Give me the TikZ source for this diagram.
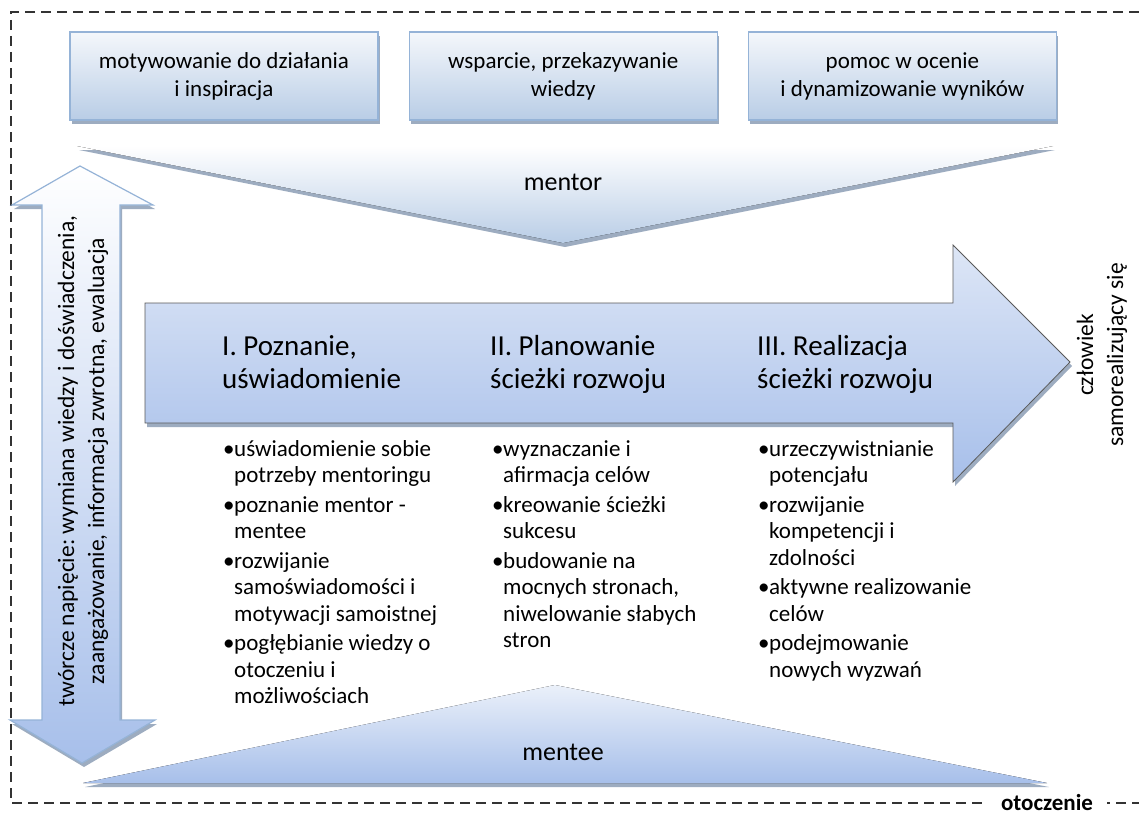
\documentclass[tikz,border=0pt]{standalone}
\usepackage{fontspec}
\setmainfont{Carlito}
\usetikzlibrary{positioning,shadows}
\definecolor{boxline}{HTML}{95B3D7}
\definecolor{boxlight}{HTML}{F4F7FB}
\definecolor{boxdark}{HTML}{B9CDE6}
\definecolor{arrowlight}{HTML}{DDE6F6}
\definecolor{arrowdark}{HTML}{A7BFEA}
\definecolor{shadowgray}{HTML}{8497B0}
\newcommand{\pkt}{\makebox[11pt][l]{\textbullet}}
\newcommand{\wc}{\hspace*{11pt}}
\frenchspacing

\begin{document}
\begin{tikzpicture}[x=1pt,y=-1pt,
  soft shadow/.style={drop shadow={shadow xshift=2pt,shadow yshift=-4pt,fill=shadowgray,opacity=.8}},
  top box/.style={draw=boxline,line width=1.2pt,top color=boxlight,bottom color=boxdark,
    minimum width=308pt,minimum height=88pt,align=center,soft shadow,
    font=\fontsize{23}{28}\selectfont},
  stage/.style={anchor=base west,align=left,inner sep=0pt,font=\fontsize{29}{33}\selectfont},
  bullets/.style={anchor=north west,align=left,inner sep=0pt,font=\fontsize{23}{26.5}\selectfont},
  side text/.style={rotate=90,align=center,font=\fontsize{23.5}{30}\selectfont}]
  \useasboundingbox (0,0) rectangle (1139,816);

  \draw[dash pattern=on 10pt off 6pt,line width=2.3pt,black!80]
    (1139,12) -- (11,12) -- (11,803) -- (1139,803);
  \node[fill=white,inner xsep=14pt,inner ysep=1pt,font=\fontsize{23}{26}\selectfont\bfseries]
    (otoczenie) at (1047,803) {otoczenie};

  \node[top box] (motyw) at (224,76) {motywowanie do działania\\i inspiracja};
  \node[top box,right=30pt of motyw] (wsparcie) {wsparcie, przekazywanie\\wiedzy};
  \node[top box,right=30pt of wsparcie] (ocena) {pomoc w ocenie\\i dynamizowanie wyników};

  \fill[top color=white,bottom color=boxdark,soft shadow]
    (77,146) -- (1053,146) -- (563,243) -- cycle;
  \node[font=\fontsize{26}{30}\selectfont] (mentor) at (563,182) {mentor};

  \fill[top color=arrowlight!60,bottom color=arrowdark,soft shadow]
    (83,783) -- (555,685) -- (1047,783) -- cycle;
  \node[font=\fontsize{26}{30}\selectfont] (mentee) at (563,752) {mentee};

  \draw[draw=boxline,line width=1.2pt,top color=white,bottom color=arrowdark,soft shadow]
    (80,166) -- (153,205) -- (120,205) -- (120,720) -- (155,720) -- (82,763)
    -- (10,720) -- (42,720) -- (42,205) -- (12,205) -- cycle;
  \node[side text] (napiecie) at (83,461)
    {twórcze napięcie: wymiana wiedzy i doświadczenia,\\zaangażowanie, informacja zwrotna, ewaluacja};

  \draw[draw=gray!70!black,line width=.8pt,top color=arrowlight,bottom color=arrowdark,soft shadow]
    (145,303) -- (953,303) -- (953,245) -- (1070,362) -- (953,482) -- (953,423)
    -- (145,423) -- cycle;
  \node[stage] (poznanie) at (222,388) {I. Poznanie,\\uświadomienie};
  \node[stage] (planowanie) at (490,388) {II. Planowanie\\ścieżki rozwoju};
  \node[stage] (realizacja) at (757,388) {III. Realizacja\\ścieżki rozwoju};

  \node[side text] (czlowiek) at (1102,355) {człowiek\\samorealizujący się};

  \node[bullets] (lista1) at (223,440) {\pkt uświadomienie sobie\\ \wc potrzeby mentoringu\\[3pt]
    \pkt poznanie mentor -\\ \wc mentee\\[3pt]
    \pkt rozwijanie\\ \wc samoświadomości i\\ \wc motywacji samoistnej\\[3pt]
    \pkt pogłębianie wiedzy o\\ \wc otoczeniu i\\ \wc możliwościach};
  \node[bullets] (lista2) at (492,440) {\pkt wyznaczanie i\\ \wc afirmacja celów\\[3pt]
    \pkt kreowanie ścieżki\\ \wc sukcesu\\[3pt]
    \pkt budowanie na\\ \wc mocnych stronach,\\ \wc niwelowanie słabych\\ \wc stron};
  \node[bullets] (lista3) at (758,440) {\pkt urzeczywistnianie\\ \wc potencjału\\[3pt]
    \pkt rozwijanie\\ \wc kompetencji i\\ \wc zdolności\\[3pt]
    \pkt aktywne realizowanie\\ \wc celów\\[3pt]
    \pkt podejmowanie\\ \wc nowych wyzwań};
\end{tikzpicture}
\end{document}
